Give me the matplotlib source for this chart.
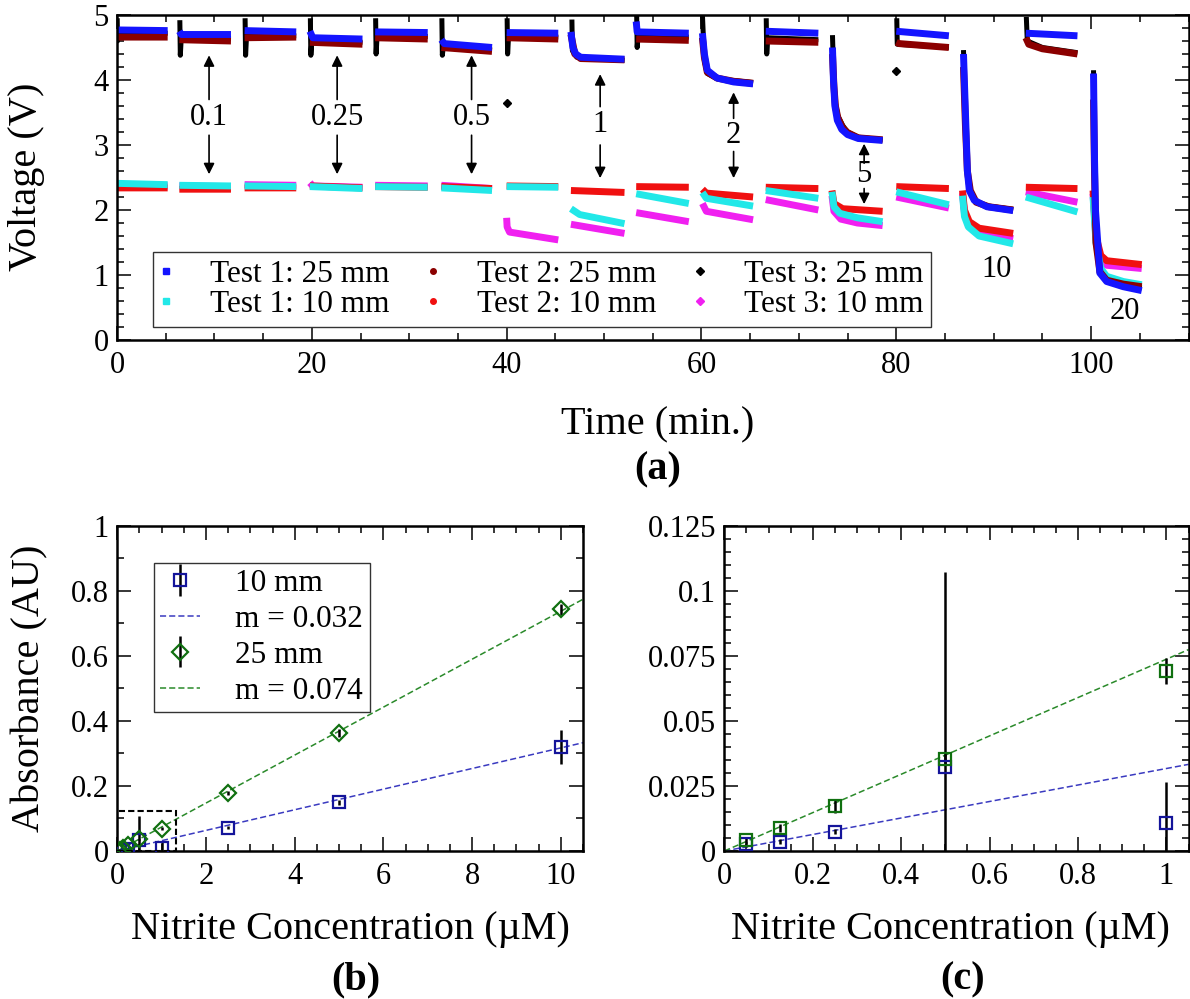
import numpy as np
import matplotlib
matplotlib.use('Agg')
import matplotlib.pyplot as plt
from matplotlib.lines import Line2D
from matplotlib.patches import Rectangle
from matplotlib.ticker import MultipleLocator, FuncFormatter

plt.rcParams['font.family'] = ['Liberation Serif', 'DejaVu Serif']

# ---------------- Panel (a) data: (time [min], voltage [V]) knots per segment ----------------
T1_25 = [
    [(0, 4.77), (5.2, 4.76)],
    [(6.4, 4.75), (6.6, 4.70), (11.7, 4.70)],
    [(13.1, 4.76), (18.4, 4.74)],
    [(19.8, 4.75), (20.1, 4.65), (25.2, 4.63)],
    [(26.5, 4.74), (31.9, 4.73)],
    [(33.3, 4.62), (33.6, 4.56), (38.5, 4.50)],
    [(40.0, 4.73), (45.3, 4.72)],
    [(46.6, 4.74), (46.8, 4.50), (47.1, 4.40), (47.6, 4.35), (52.1, 4.32)],
    [(53.3, 4.90), (53.4, 4.74), (58.7, 4.72)],
    [(60.1, 4.72), (60.3, 4.40), (60.6, 4.15), (61.6, 4.03), (63.3, 3.97), (65.3, 3.94)],
    [(66.6, 4.75), (72.0, 4.72)],
    [(73.45, 4.50), (73.55, 4.00), (73.7, 3.60), (73.95, 3.38), (74.4, 3.24), (75.0, 3.16), (76.1, 3.10), (78.6, 3.07)],
    [(80.0, 4.75), (85.4, 4.68)],
    [(86.9, 4.40), (87.1, 3.50), (87.3, 2.60), (87.5, 2.30), (88.0, 2.15), (89.3, 2.05), (92.0, 1.99)],
    [(93.3, 4.72), (98.6, 4.68)],
    [(100.25, 4.10), (100.35, 2.80), (100.45, 2.00), (100.9, 1.03), (101.6, 0.90), (103.3, 0.82), (105.2, 0.76)],
]
T2_25 = [
    [(0, 4.66), (5.2, 4.66)],
    [(6.4, 4.62), (11.7, 4.60)],
    [(13.1, 4.65), (18.4, 4.66)],
    [(19.8, 4.58), (25.2, 4.55)],
    [(26.5, 4.65), (31.9, 4.63)],
    [(33.3, 4.50), (38.5, 4.44)],
    [(40.0, 4.65), (45.3, 4.63)],
    [(46.6, 4.70), (47.0, 4.40), (47.6, 4.33), (52.1, 4.31)],
    [(53.3, 4.63), (58.7, 4.61)],
    [(60.1, 4.65), (60.3, 4.35), (60.6, 4.12), (61.6, 4.03), (63.3, 3.98), (65.3, 3.95)],
    [(66.6, 4.60), (72.0, 4.58)],
    [(73.45, 4.40), (73.6, 3.90), (73.75, 3.60), (74.0, 3.42), (74.5, 3.26), (75.0, 3.19), (76.1, 3.11), (78.6, 3.08)],
    [(80.0, 4.58), (80.3, 4.56), (85.4, 4.50)],
    [(86.9, 4.20), (87.1, 3.30), (87.3, 2.60), (87.6, 2.30), (88.2, 2.12), (89.5, 2.05), (92.0, 2.00)],
    [(93.3, 4.65), (93.6, 4.55), (95.0, 4.48), (98.6, 4.40)],
    [(100.25, 3.70), (100.35, 2.60), (100.5, 1.50), (100.9, 1.05), (101.6, 0.92), (103.3, 0.86), (105.2, 0.82)],
]
T3_25 = [
    [(0.02, 4.95), (0.05, 4.60), (0.2, 4.72), (5.2, 4.72)],
    [(6.45, 4.92), (6.5, 4.38), (6.6, 4.66), (11.7, 4.64)],
    [(13.15, 4.95), (13.2, 4.38), (13.3, 4.68), (18.4, 4.68)],
    [(19.85, 4.95), (19.9, 4.38), (20.0, 4.60), (25.2, 4.58)],
    [(26.55, 4.95), (26.6, 4.40), (26.7, 4.68), (31.9, 4.67)],
    [(33.35, 4.95), (33.4, 4.38), (33.5, 4.52), (38.5, 4.47)],
    [(40.05, 4.95), (40.1, 4.40), (40.2, 4.68), (45.3, 4.66)],
    [(46.7, 4.93), (46.75, 4.45), (47.2, 4.35), (52.1, 4.30)],
    [(53.35, 5.00), (53.4, 4.50), (53.5, 4.68), (58.7, 4.66)],
    [(60.1, 5.00), (60.3, 4.30), (60.6, 4.10), (61.6, 4.02), (65.3, 3.96)],
    [(66.65, 4.95), (66.7, 4.40), (66.8, 4.65), (72.0, 4.62)],
    [(73.45, 4.69), (73.6, 3.95), (73.75, 3.65), (74.0, 3.45), (74.5, 3.30), (75.0, 3.20), (76.1, 3.12), (78.6, 3.08)],
    [(80.05, 4.95), (80.1, 4.55), (85.4, 4.50)],
    [(86.9, 4.46), (87.1, 3.40), (87.3, 2.60), (87.6, 2.30), (88.2, 2.12), (89.5, 2.06), (92.0, 2.01)],
    [(93.35, 4.97), (93.45, 4.60), (95.0, 4.50), (98.6, 4.42)],
    [(100.25, 4.15), (100.35, 2.80), (100.45, 2.00), (100.9, 1.05), (101.6, 0.92), (103.3, 0.85), (105.2, 0.80)],
]
T3_25_outlier_t = [40.0, 80.0]
T3_25_outlier_v = [3.65, 4.14]

T1_10 = [
    [(0, 2.41), (5.2, 2.39)],
    [(6.4, 2.38), (11.7, 2.37)],
    [(13.1, 2.37), (18.4, 2.36)],
    [(19.8, 2.36), (25.2, 2.33)],
    [(26.5, 2.36), (31.9, 2.35)],
    [(33.3, 2.34), (38.5, 2.30)],
    [(40.0, 2.36), (45.3, 2.35)],
    [(46.6, 2.02), (47.5, 1.93), (52.1, 1.79)],
    [(53.3, 2.25), (58.7, 2.10)],
    [(60.1, 2.27), (60.5, 2.18), (65.3, 2.06)],
    [(66.6, 2.30), (72.0, 2.18)],
    [(73.4, 2.28), (73.6, 2.05), (74.2, 1.95), (76.0, 1.88), (78.6, 1.82)],
    [(80.0, 2.28), (85.4, 2.08)],
    [(86.8, 2.22), (87.0, 1.90), (87.4, 1.74), (88.5, 1.60), (92.0, 1.48)],
    [(93.3, 2.20), (98.6, 1.97)],
    [(100.2, 2.20), (100.5, 1.50), (101.0, 1.10), (101.6, 0.98), (103.3, 0.90), (105.2, 0.85)],
]
T2_10 = [
    [(0, 2.34), (5.2, 2.34)],
    [(6.4, 2.32), (11.7, 2.32)],
    [(13.1, 2.34), (18.4, 2.34)],
    [(19.8, 2.37), (25.2, 2.34)],
    [(26.5, 2.36), (31.9, 2.35)],
    [(33.3, 2.36), (38.5, 2.33)],
    [(40.0, 2.37), (45.3, 2.36)],
    [(46.6, 2.30), (52.1, 2.27)],
    [(53.3, 2.36), (58.7, 2.35)],
    [(60.1, 2.32), (60.5, 2.26), (65.3, 2.20)],
    [(66.6, 2.35), (72.0, 2.33)],
    [(73.4, 2.30), (73.6, 2.10), (74.5, 2.02), (78.6, 1.98)],
    [(80.0, 2.36), (85.4, 2.33)],
    [(86.8, 2.30), (87.0, 2.00), (87.5, 1.82), (88.5, 1.72), (92.0, 1.64)],
    [(93.3, 2.35), (98.6, 2.33)],
    [(100.2, 2.30), (100.5, 1.60), (101.0, 1.30), (101.6, 1.22), (105.2, 1.16)],
]
T3_10 = [
    [(0, 2.38), (5.2, 2.37)],
    [(6.4, 2.37), (11.7, 2.36)],
    [(13.1, 2.39), (18.4, 2.38)],
    [(19.8, 2.42), (20.1, 2.37), (25.2, 2.35)],
    [(26.5, 2.38), (31.9, 2.37)],
    [(33.3, 2.38), (38.5, 2.33)],
    [(40.0, 1.88), (40.05, 1.74), (40.3, 1.66), (45.3, 1.54)],
    [(46.6, 1.78), (52.1, 1.64)],
    [(53.3, 1.96), (58.7, 1.82)],
    [(60.1, 2.10), (60.5, 1.98), (65.3, 1.85)],
    [(66.6, 2.16), (72.0, 2.00)],
    [(73.4, 2.22), (73.6, 1.98), (74.3, 1.86), (76.0, 1.80), (78.6, 1.76)],
    [(80.0, 2.20), (85.4, 2.03)],
    [(86.8, 2.26), (87.0, 1.95), (87.5, 1.78), (88.5, 1.66), (92.0, 1.56)],
    [(93.3, 2.28), (98.6, 2.12)],
    [(100.2, 2.25), (100.5, 1.55), (101.0, 1.25), (101.6, 1.15), (105.2, 1.10)],
]

conc_labels = ['0.1', '0.25', '0.5', '1', '2', '5', '10', '20']

# ---------------- Panels (b), (c) data ----------------
conc = [0.05, 0.125, 0.25, 0.5, 1, 2.5, 5, 10]
abs_10mm = [0.0026, 0.0036, 0.0074, 0.0323, 0.0106, 0.072, 0.150, 0.320]
err_10mm = [0.001, 0.001, 0.001, 0.075, 0.016, 0.004, 0.008, 0.053]
abs_25mm = [0.0042, 0.0087, 0.0173, 0.0354, 0.069, 0.178, 0.363, 0.743]
err_25mm = [0.001, 0.0015, 0.0027, 0.002, 0.005, 0.006, 0.012, 0.016]
slope_10mm = 0.0317
slope_25mm = 0.0737
slope_labels = ['m = 0.032', 'm = 0.074']


def to_xy(segs):
    t, v = [], []
    for s in segs:
        for a, b in s:
            t.append(a)
            v.append(b)
        t.append(np.nan)
        v.append(np.nan)
    return np.array(t), np.array(v)


def style(ax):
    ax.tick_params(which='both', direction='in', top=True, right=True, width=1.1,
                   labelsize=22)
    ax.tick_params(which='major', length=10)
    ax.tick_params(which='minor', length=5)
    ax.tick_params(axis='x', pad=8)
    ax.tick_params(axis='y', pad=6)
    for s in ax.spines.values():
        s.set_linewidth(1.8)


fig = plt.figure(figsize=(11.9, 9.99), dpi=100)
ax_a = fig.add_axes([0.09832, 0.65966, 0.90042, 0.32533])
ax_b = fig.add_axes([0.09857, 0.14815, 0.39134, 0.32563])
ax_c = fig.add_axes([0.60866, 0.14815, 0.39008, 0.32563])

# ---------------- Panel (a) ----------------
C_T1_25, C_T1_10 = '#1414ff', '#22e8e8'
C_T2_25, C_T2_10 = '#8b0000', '#f01010'
C_T3_25, C_T3_10 = '#000000', '#f020f0'
for segs, col, lw in [(T3_10, C_T3_10, 5.0), (T2_10, C_T2_10, 5.0), (T1_10, C_T1_10, 5.0),
                      (T3_25, C_T3_25, 3.6), (T2_25, C_T2_25, 5.0), (T1_25, C_T1_25, 5.0)]:
    t, v = to_xy(segs)
    ax_a.plot(t, v, color=col, lw=lw, solid_capstyle='butt', solid_joinstyle='round')
ax_a.plot(T3_25_outlier_t, T3_25_outlier_v, ls='none', marker='D', ms=4, color='k')

ax_a.set_xlim(0, 110)
ax_a.set_ylim(0, 5)
ax_a.xaxis.set_major_locator(MultipleLocator(20))
ax_a.xaxis.set_minor_locator(MultipleLocator(5))
ax_a.yaxis.set_major_locator(MultipleLocator(1))
ax_a.yaxis.set_minor_locator(MultipleLocator(0.2))
style(ax_a)

# annotations (layout)
ann_t = [9.45, 22.6, 36.4, 49.6, 63.3, 76.7]
ann_v = [3.43, 3.43, 3.43, 3.31, 3.15, 2.54]
up_from = [3.70, 3.70, 3.70, 3.59, 3.41, 2.72]
up_to = [4.38, 4.38, 4.38, 4.09, 3.81, 3.02]
dn_from = [3.15, 3.15, 3.15, 3.00, 2.90, 2.33]
dn_to = [2.55, 2.55, 2.55, 2.49, 2.49, 2.09]
ap = dict(arrowstyle='-|>', color='k', lw=1.2, mutation_scale=16, shrinkA=0, shrinkB=0)
for i in range(6):
    ax_a.text(ann_t[i], ann_v[i], conc_labels[i], ha='center', va='center', fontsize=22)
    ax_a.annotate('', xy=(ann_t[i], up_to[i]), xytext=(ann_t[i], up_from[i]), arrowprops=ap)
    ax_a.annotate('', xy=(ann_t[i], dn_to[i]), xytext=(ann_t[i], dn_from[i]), arrowprops=ap)
ax_a.text(90.3, 1.09, conc_labels[6], ha='center', va='center', fontsize=22)
ax_a.text(103.5, 0.44, conc_labels[7], ha='center', va='center', fontsize=22)

handles_a = [
    Line2D([], [], ls='none', marker='s', ms=4.5, color=C_T1_25),
    Line2D([], [], ls='none', marker='s', ms=4.5, color=C_T1_10),
    Line2D([], [], ls='none', marker='o', ms=4, color=C_T2_25),
    Line2D([], [], ls='none', marker='o', ms=4, color=C_T2_10),
    Line2D([], [], ls='none', marker='D', ms=3.8, color=C_T3_25),
    Line2D([], [], ls='none', marker='D', ms=3.8, color=C_T3_10),
]
labels_a = ['Test 1: 25 mm', 'Test 1: 10 mm', 'Test 2: 25 mm', 'Test 2: 10 mm',
            'Test 3: 25 mm', 'Test 3: 10 mm']
leg = ax_a.legend(handles_a, labels_a, ncol=3, loc='lower left', bbox_to_anchor=(0.034, 0.04),
                  fontsize=22.5, frameon=True, fancybox=False, edgecolor='#333333', framealpha=1,
                  handlelength=0.3, handletextpad=1.25, columnspacing=1.25, borderpad=0.25,
                  labelspacing=0.05, borderaxespad=0)
leg.get_frame().set_linewidth(1.0)

fig.text(658 / 1190, 1 - 425 / 999, 'Time (min.)', ha='center', va='center', fontsize=29)
fig.text(658 / 1190, 1 - 470 / 999, '(a)', ha='center', va='center', fontsize=29, fontweight='bold')
fig.text(27 / 1190, 1 - 177 / 999, 'Voltage (V)', ha='center', va='center', fontsize=29, rotation=90)

# ---------------- Panel (b) ----------------
BLUE_M, BLUE_L = '#14149a', '#3a3ac0'
GREEN_M, GREEN_L = '#107010', '#2a8a2a'
eb10 = ax_b.errorbar(conc, abs_10mm, yerr=err_10mm, ls='none', marker='s', ms=8, mfc='none',
                     mec=BLUE_M, mew=1.6, ecolor='k', elinewidth=1.8, capsize=0, zorder=3)
xb = np.array([0, 10.5])
ln10, = ax_b.plot(xb, slope_10mm * xb, color=BLUE_L, lw=1.1, dashes=(4, 2), zorder=2)
eb25 = ax_b.errorbar(conc, abs_25mm, yerr=err_25mm, ls='none', marker='D', ms=8.5, mfc='none',
                     mec=GREEN_M, mew=1.6, ecolor='k', elinewidth=1.8, capsize=0, zorder=3)
ln25, = ax_b.plot(xb, slope_25mm * xb, color=GREEN_L, lw=1.1, dashes=(4, 2), zorder=2)
ax_b.add_patch(Rectangle((0, 0), 1.32, 0.124, fill=False, ec='k', lw=1.5, ls=(0, (3, 1.5)), zorder=4))
ax_b.set_xlim(0, 10.5)
ax_b.set_ylim(0, 1)
ax_b.xaxis.set_major_locator(MultipleLocator(2))
ax_b.xaxis.set_minor_locator(MultipleLocator(0.5))
ax_b.yaxis.set_major_locator(MultipleLocator(0.2))
ax_b.yaxis.set_minor_locator(MultipleLocator(0.1))
ax_b.yaxis.set_major_formatter(FuncFormatter(lambda v, p: '%g' % round(v, 6)))
style(ax_b)
legb = ax_b.legend([eb10, ln10, eb25, ln25], ['10 mm', slope_labels[0], '25 mm', slope_labels[1]],
                   loc='upper left', bbox_to_anchor=(0.078, 0.886), fontsize=22.5, frameon=True,
                   fancybox=False, edgecolor='#333333', framealpha=1, handlelength=1.27,
                   handletextpad=1.15, borderpad=0.2, labelspacing=0.22, borderaxespad=0)
legb.get_frame().set_linewidth(1.0)

fig.text(350 / 1190, 1 - 930 / 999, 'Nitrite Concentration (µM)', ha='center', va='center', fontsize=29)
fig.text(356 / 1190, 1 - 980 / 999, '(b)', ha='center', va='center', fontsize=29, fontweight='bold')
fig.text(30 / 1190, 1 - 688 / 999, 'Absorbance (AU)', ha='center', va='center', fontsize=29, rotation=90)

# ---------------- Panel (c) ----------------
ax_c.errorbar(conc, abs_10mm, yerr=err_10mm, ls='none', marker='s', ms=8, mfc='none',
              mec=BLUE_M, mew=1.6, ecolor='k', elinewidth=1.8, capsize=0, zorder=3)
xc = np.array([0, 1.05])
ax_c.plot(xc, slope_10mm * xc, color=BLUE_L, lw=1.1, dashes=(4, 2), zorder=2)
ax_c.errorbar(conc, abs_25mm, yerr=err_25mm, ls='none', marker='s', ms=8, mfc='none',
              mec=GREEN_M, mew=1.6, ecolor='k', elinewidth=1.8, capsize=0, zorder=3)
ax_c.plot(xc, slope_25mm * xc, color=GREEN_L, lw=1.1, dashes=(4, 2), zorder=2)
ax_c.set_xlim(0, 1.05)
ax_c.set_ylim(0, 0.125)
ax_c.xaxis.set_major_locator(MultipleLocator(0.2))
ax_c.xaxis.set_minor_locator(MultipleLocator(0.05))
ax_c.yaxis.set_major_locator(MultipleLocator(0.025))
ax_c.yaxis.set_minor_locator(MultipleLocator(0.005))
fmt = FuncFormatter(lambda v, p: '%g' % round(v, 6))
ax_c.xaxis.set_major_formatter(fmt)
ax_c.yaxis.set_major_formatter(fmt)
style(ax_c)

fig.text(950 / 1190, 1 - 930 / 999, 'Nitrite Concentration (µM)', ha='center', va='center', fontsize=29)
fig.text(963 / 1190, 1 - 980 / 999, '(c)', ha='center', va='center', fontsize=29, fontweight='bold')

fig.savefig('out.png', dpi=100)
